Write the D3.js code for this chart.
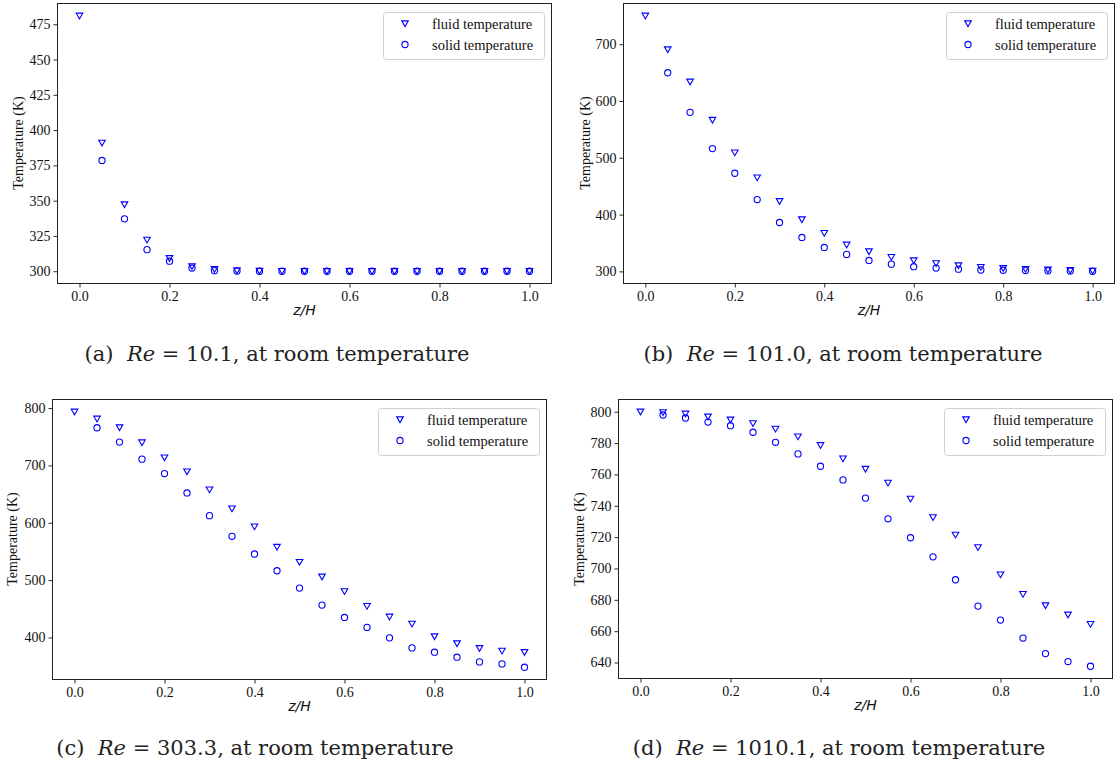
<!DOCTYPE html>
<html><head><meta charset="utf-8">
<script src="https://cdn.jsdelivr.net/npm/d3@7"></script>
<style>body{margin:0;background:#fff}svg{display:block}</style>
</head><body>
<svg id="c" width="1116" height="765"></svg>
<script>
const zH = [0,0.05,0.1,0.15,0.2,0.25,0.3,0.35,0.4,0.45,0.5,0.55,0.6,0.65,0.7,0.75,0.8,0.85,0.9,0.95,1.0];

const fluidA = [481,391,347.3,322.2,309.2,303.5,301.4,300.5,300.2,300.1,300,300,300,300,300,300,300,300,300,300,300];
const solidA = [481,378.5,337.1,315.3,307.1,302.3,300.4,300.1,300,300,300,300,300,300,300,300,300,300,300,300,300];

const fluidB = [750,690.7,633.9,566.6,509.1,465.2,423.6,391.4,367.3,346.9,335.1,325.1,319.3,314.1,310.5,307.6,305.5,304,303,302,301];
const solidB = [750,649.7,580,516.2,472.8,426.5,386.1,359.8,342.2,329.9,319.3,312.8,308.3,305.8,304,302.5,302,301.5,301,300.7,300.3];

const fluidC = [793.5,781.3,766.1,739.9,713.7,689.3,657.8,624.6,593.2,557.7,531.5,505.9,480.3,454.7,436.1,423.8,401.7,389.5,381.3,376.6,374.3];
const solidC = [793.5,765.6,740.6,710.9,685.8,652,612.4,576.4,545.5,516.3,486.1,456.4,434.9,417.5,399.3,381.8,374.3,365.6,357.4,353.9,348.1];

const fluidD = [800,799.6,798.7,796.8,794.9,792.6,789.1,784.1,778.6,770.1,763.5,754.6,744.4,732.6,721.4,713.5,696.1,683.6,676.4,670.5,664.5];
const solidD = [800,797.9,796,793.4,791.1,786.9,780.5,773.1,765.2,756.5,744.9,731.7,719.6,707.4,692.8,676,667.1,655.6,645.7,640.6,637.6];

const xTicks = [0,0.2,0.4,0.6,0.8,1.0];
const yTicksA = [300,325,350,375,400,425,450,475];
const yTicksB = [300,400,500,600,700];
const yTicksC = [400,500,600,700,800];
const yTicksD = [640,660,680,700,720,740,760,780,800];

const seriesNames = ["fluid temperature","solid temperature"];
const captionLetters = ["(a)","(b)","(c)","(d)"];
const reValues = ["10.1","101.0","303.3","1010.1"];

const panels = [
  {fluid:fluidA, solid:solidA, yt:yTicksA, box:[57,3,552,284], cap:[277,361], lab:[20,143]},
  {fluid:fluidB, solid:solidB, yt:yTicksB, box:[623,3,1115,284], cap:[843,361], lab:[587,143]},
  {fluid:fluidC, solid:solidC, yt:yTicksC, box:[52,399,547,680], cap:[255,755], lab:[14,539]},
  {fluid:fluidD, solid:solidD, yt:yTicksD, box:[618,399,1113,679], cap:[839,755], lab:[581,539]}
];

const svg = d3.select("#c");
const blue = "#0000ff";
const serif = "'Liberation Serif','Times New Roman',serif";
const triPath = "M-3.3,-2.6 L3.3,-2.6 L0,3.1 Z";

panels.forEach((p,i)=>{
  const [x0,y0,x1,y1] = p.box;
  const all = p.fluid.concat(p.solid);
  const mn = d3.min(all), mx = d3.max(all), pad = (mx-mn)*0.05;
  const x = d3.scaleLinear().domain([-0.05,1.05]).range([x0,x1]);
  const y = d3.scaleLinear().domain([mn-pad,mx+pad]).range([y1,y0]);
  const g = svg.append("g");

  const xa = g.append("g").attr("transform",`translate(0,${y1})`)
    .call(d3.axisBottom(x).tickValues(xTicks).tickFormat(d3.format(".1f")).tickSize(3.5).tickPadding(4));
  const ya = g.append("g").attr("transform",`translate(${x0},0)`)
    .call(d3.axisLeft(y).tickValues(p.yt).tickFormat(d3.format("d")).tickSize(3.5).tickPadding(3));
  [xa,ya].forEach(a=>{
    a.select(".domain").remove();
    a.selectAll("text").attr("font-family",serif).attr("font-size",14).attr("fill","#111");
    a.selectAll("line").attr("stroke","#111").attr("stroke-width",0.9);
  });
  g.append("rect").attr("x",x0+0.5).attr("y",y0+0.5).attr("width",x1-x0-1).attr("height",y1-y0-1)
    .attr("fill","none").attr("stroke","#222").attr("stroke-width",1);

  g.append("g").selectAll("path").data(zH.map((z,k)=>[z,p.fluid[k]])).join("path")
    .attr("d",triPath).attr("transform",d=>`translate(${x(d[0])},${y(d[1])})`)
    .attr("fill","none").attr("stroke",blue).attr("stroke-width",1.1);
  g.append("g").selectAll("circle").data(zH.slice(1).map((z,k)=>[z,p.solid[k+1]])).join("circle")
    .attr("cx",d=>x(d[0])).attr("cy",d=>y(d[1])).attr("r",3.1)
    .attr("fill","none").attr("stroke",blue).attr("stroke-width",1.1);

  g.append("text").attr("x",(x0+x1)/2).attr("y",y1+31).attr("text-anchor","middle")
    .attr("font-family","'DejaVu Sans',sans-serif").attr("font-style","italic").attr("font-size",14)
    .attr("fill","#111").text("z/H");
  g.append("text").attr("transform",`translate(${p.lab[0]},${p.lab[1]}) rotate(-90)`)
    .attr("text-anchor","middle").attr("dominant-baseline","middle")
    .attr("font-family",serif).attr("font-size",14).attr("fill","#111").text("Temperature (K)");

  const lw = 161, lh = 47, lx = x1-8-lw, ly = y0+9;
  const lg = g.append("g").attr("transform",`translate(${lx},${ly})`);
  lg.append("rect").attr("x",0.5).attr("y",0.5).attr("width",lw).attr("height",lh).attr("rx",3)
    .attr("fill","#fff").attr("fill-opacity",0.8).attr("stroke","#d0d0d0").attr("stroke-width",1);
  seriesNames.forEach((nm,k)=>{
    const yy = 11.5 + k*21;
    if(k===0) lg.append("path").attr("d",triPath).attr("transform",`translate(22,${yy})`)
      .attr("fill","none").attr("stroke",blue).attr("stroke-width",1.1);
    else lg.append("circle").attr("cx",22).attr("cy",yy).attr("r",3.1)
      .attr("fill","none").attr("stroke",blue).attr("stroke-width",1.1);
    lg.append("text").attr("x",49).attr("y",yy+5).attr("font-family",serif).attr("font-size",14.5)
      .attr("fill","#111").text(nm);
  });

  const cap = svg.append("text").attr("x",p.cap[0]).attr("y",p.cap[1]).attr("text-anchor","middle")
    .attr("font-family","'DejaVu Serif',serif").attr("font-size",21).attr("fill","#222")
    .attr("xml:space","preserve");
  cap.append("tspan").text(captionLetters[i]+"  ");
  cap.append("tspan").attr("font-style","italic").text("Re");
  cap.append("tspan").text(" = "+reValues[i]+", at room temperature");
});
</script>
</body></html>
